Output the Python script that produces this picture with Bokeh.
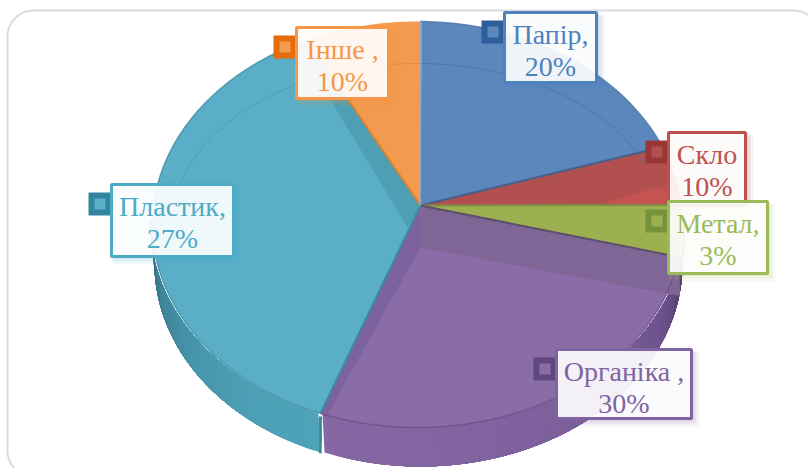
import math
from bokeh.plotting import figure
from bokeh.embed import file_html
from bokeh.resources import INLINE
from bokeh.models import Range1d
from bokeh.core.properties import value

# --- data ---
categories = ["Папір,", "Скло", "Метал,", "Органіка ,", "Пластик,", "Інше ,"]
percent_labels = ["20%", "10%", "3%", "30%", "27%", "10%"]
# the drawn wedges do not follow the printed percentages; these are their shares as drawn
drawn_shares = [18.6, 4.7, 4.1, 28.4, 37.2, 7.1]
face_colors = ["#5B87BD", "#B25050", "#9DB050", "#8A6DA7", "#5AAEC8", "#F39A4F"]
text_colors = ["#4F81BD", "#C0504D", "#9BBB59", "#8064A2", "#4BACC6", "#F79646"]
key_colors = ["#2F5F9A", "#953735", "#76923C", "#5F497A", "#31859C", "#E46C0A"]

# --- layout ---
box_rects = [(504, 12, 596, 82), (668, 132, 745, 205), (668, 201, 767, 273),
             (556, 349, 691, 418), (111, 184, 233, 256), (296, 27, 388, 98)]
KEY = 23
CX, CY, RX, RY = 417, 224, 265, 203
IRX, IRY = 245, 161
AX, AY = 420, 205
DEPTH = 39
BOTTOM_RX, BOTTOM_DX = 262, 1
START = 0.6

p = figure(width=808, height=468, output_backend="svg", toolbar_location=None,
           x_range=Range1d(0, 808), y_range=Range1d(468, 0), min_border=0)
p.axis.visible = False
p.grid.visible = False
p.outline_line_color = None
p.background_fill_color = "white"
p.border_fill_color = "white"


def rim(t, rx=RX, ry=RY):
    a = math.radians(t)
    return CX + rx * math.sin(a), CY - ry * math.cos(a)


def low(t):
    q = rim(t, BOTTOM_RX, RY)
    return q[0] + BOTTOM_DX, q[1] + DEPTH


def arc(t0, t1, rx=RX, ry=RY, step=1.0):
    n = max(2, int(abs(t1 - t0) / step))
    return [rim(t0 + (t1 - t0) * i / n, rx, ry) for i in range(n + 1)]


def poly(pts, color, alpha=1.0, line=None, lw=1):
    p.patch([q[0] for q in pts], [q[1] for q in pts], fill_color=color, fill_alpha=alpha,
            line_color=line, line_width=lw)


def mix(c1, c2, f):
    a = [int(c1[i:i + 2], 16) for i in (1, 3, 5)]
    b = [int(c2[i:i + 2], 16) for i in (1, 3, 5)]
    return "#%02x%02x%02x" % tuple(round(x + (y - x) * f) for x, y in zip(a, b))


def off(q, dx, dy):
    return q[0] + dx, q[1] + dy


# card with rounded corners, its right and bottom sides run out of the picture
R, L, T, Rt, B = 26, 7, 10, 819, 476
card = []
for (cx, cy, a0) in [(L + R, T + R, 180), (Rt - R, T + R, 270), (Rt - R, B - R, 0), (L + R, B - R, 90)]:
    for a in range(a0, a0 + 91, 5):
        card.append((cx + R * math.cos(math.radians(a)), cy + R * math.sin(math.radians(a))))
poly(card, "white", 1, "#DCDCDC", 2)

edges = [START]
for s in drawn_shares:
    edges.append(edges[-1] + s * 3.6)
e = edges


# side wall: each slat runs on to the far end, so later slats overpaint it without seams
def wall(t0, t1, stops, dx=0):
    n = max(2, int(abs(t1 - t0) / 1.5))
    for i in range(n):
        a = t0 + (t1 - t0) * i / n
        f = i / (n - 1) * (len(stops) - 1)
        j = min(int(f), len(stops) - 2)
        col = mix(stops[j], stops[j + 1], f - j)
        ang = [a + (t1 - a) * k / 40 for k in range(41)]
        poly([off(rim(t), dx, 0) for t in ang] + [off(low(t), dx, 0) for t in reversed(ang)], col)


wall(e[4], 88, ["#8568A3", "#8265A1", "#7E619D", "#7A5D99", "#6B5088", "#3F3158"], 2)
wall(e[4], 272, ["#4FA3B9", "#4C9FB4", "#4795AB", "#3F8598", "#2F6675"], -2)

# faces
for i in range(6):
    pts = [(AX, AY)] + arc(e[i], e[i + 1])
    poly(pts, face_colors[i], 1)

# inner walls seen through the translucent faces
poly([off(rim(e[1]), -2, DEPTH), rim(e[2]),
      (AX + .68 * (rim(e[2])[0] - AX), AY + .68 * (rim(e[2])[1] - AY))], "#C5534F")
poly([(AX, AY), (AX, AY + 42), off(rim(e[3]), 1, DEPTH), rim(e[3])], "#7F6696")
poly([(AX, AY), (AX, AY + 42), off(rim(e[4]), 6, 3), rim(e[4])], "#7C63A0")
poly([(AX, AY), (AX - 13, AY + 22), off(rim(e[5]), 4, 28), rim(e[5])], "#4F9FB4")

# bevel hairlines
for (a, b, col) in [(e[0], e[1], "#4C77AE"), (e[4] + 70, e[5], "#4F9DB6"), (e[5], e[6], "#E58B45")]:
    q = arc(a, b, IRX, IRY)
    p.line([k[0] for k in q], [k[1] for k in q], line_color=col, line_width=1)

# rim lines
for (a, b, col) in [(e[0], e[1], "#4A74A8"), (e[3], e[4], "#6A4F8A"), (e[4], 360 - 25, "#3F8EA5")]:
    q = arc(a, b)
    p.line([k[0] for k in q], [k[1] for k in q], line_color=col, line_width=1.5, line_alpha=.8)

# wedge edges
edge_cols = ["#4B5F86", "#7E8E45", "#5C4E6E", "#3C8B9C", "#D9822F"]
for i, c in zip([1, 2, 3, 4, 5], edge_cols):
    q = rim(e[i])
    p.line([AX, q[0]], [AY, q[1]], line_color=c, line_width=2)
q = rim(e[0])
p.line([AX, AX], [AY, q[1]], line_color="#8FA6C4", line_width=1)

# wall gap at the purple / cyan corner
q = rim(e[4])
p.line([q[0], q[0]], [q[1] + 3, q[1] + DEPTH + 1], line_color="#3C8B9C", line_width=3)
p.line([q[0] + 2, q[0] + 2], [q[1] + DEPTH - 10, q[1] + DEPTH + 4], line_color="white", line_width=1.5)

# labels
for i, (x0, y0, x1, y1) in enumerate(box_rects):
    col = text_colors[i]
    for k, a in zip((8, 5, 2), (.08, .12, .18)):
        p.quad(left=x0 - 1 + k * .3, right=x1 + k, top=y0 + k * .4, bottom=y1 + k, fill_color=col, fill_alpha=a,
               line_color=None)
    ky = y0 + 8
    p.quad(left=x0 - KEY, right=x0, top=ky, bottom=ky + KEY, fill_color=key_colors[i], line_color=None)
    p.quad(left=x0 - KEY + 6, right=x0 - 6, top=ky + 6, bottom=ky + KEY - 6, fill_color=face_colors[i],
           line_color=None)
    p.quad(left=x0, right=x1, top=y0, bottom=y1, fill_color="white", fill_alpha=.91,
           line_color=col, line_width=3)
    cx = (x0 + x1) / 2
    p.text([cx], [y0 + 22], text=[categories[i]], text_color=col, text_font=value("Liberation Serif"),
           text_font_size="28px", text_align="center", text_baseline="middle")
    p.text([cx], [y0 + 54], text=[percent_labels[i]], text_color=col, text_font=value("Liberation Serif"),
           text_font_size="28px", text_align="center", text_baseline="middle")

open("out.html", "w").write(file_html(p, INLINE))
